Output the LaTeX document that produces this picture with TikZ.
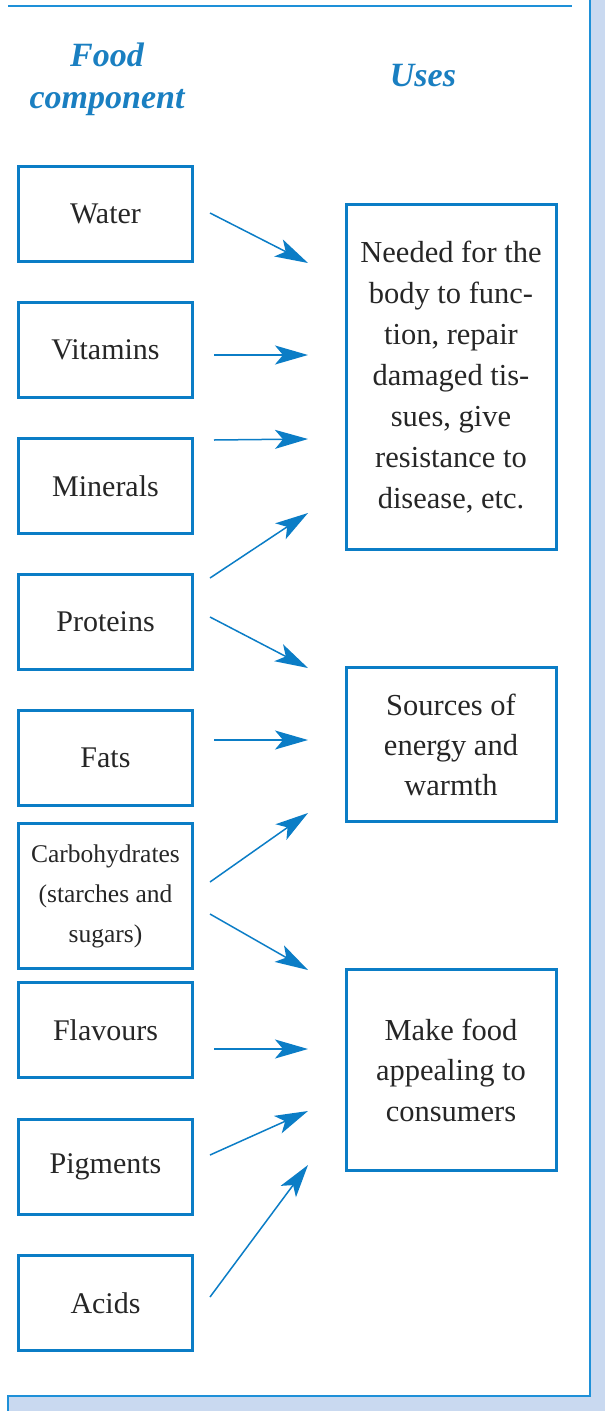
\documentclass[tikz,border=0pt]{standalone}
\usepackage{fontspec}
\setmainfont{Liberation Serif}
\usetikzlibrary{arrows.meta,calc}
\definecolor{boxblue}{HTML}{0B7DC6}
\definecolor{lineblue}{HTML}{1E90D8}
\definecolor{headblue}{HTML}{1A7FC1}
\definecolor{bandblue}{HTML}{C9D9F0}
\tikzset{
  foodbox/.style={draw=boxblue, line width=3pt, minimum width=174pt, minimum height=95pt, inner sep=0pt, align=center, font=\fontsize{30}{41}\selectfont, text=black!85},
  usebox/.style={draw=boxblue, line width=3pt, minimum width=210pt, inner sep=0pt, align=center, font=\fontsize{30.5}{41}\selectfont, text=black!85},
  heading/.style={align=center, text=headblue, font=\fontsize{34}{42}\selectfont\bfseries\itshape},
  arr/.style={draw=boxblue, line width=1.5pt, -{Stealth[length=33pt,width=19pt,inset=8pt]}},
  frame/.style={draw=lineblue, line width=1.5pt}
}
\begin{document}
\begin{tikzpicture}[x=1pt,y=-1pt]
\useasboundingbox (0,0) rectangle (605,1411);
% background bands
\fill[bandblue] (591,0) rectangle (605,1411);
\fill[bandblue] (8,1397) rectangle (605,1411);
\draw[frame] (590,0) -- (590,1396) -- (8,1396) -- (8,1411);
\draw[draw=lineblue, line width=1.2pt] (8,6) -- (572,6);
% headings
\node[heading] (hfood) at (107,79) {Food\\component};
\node[heading] (huses) at (423,76) {Uses};
% left boxes
\node[foodbox] (water) at (105.5,214) {Water};
\node[foodbox] (vitamins) at (105.5,350) {Vitamins};
\node[foodbox] (minerals) at (105.5,486) {Minerals};
\node[foodbox] (proteins) at (105.5,622) {Proteins};
\node[foodbox] (fats) at (105.5,758) {Fats};
\node[foodbox, minimum height=145pt, font=\fontsize{25.5}{40}\selectfont] (carbs) at (105.5,896) {Carbohydrates\\(starches and\\sugars)};
\node[foodbox] (flavours) at (105.5,1030) {Flavours};
\node[foodbox] (pigments) at (105.5,1167) {Pigments};
\node[foodbox] (acids) at (105.5,1303) {Acids};
% right boxes
\node[usebox, minimum height=345pt] (body) at (451,377) {Needed for the\\body to func-\\tion, repair\\damaged tis-\\sues, give\\resistance to\\disease, etc.};
\node[usebox, minimum height=154pt, font=\fontsize{30.5}{40}\selectfont] (energy) at (451,744.5) {Sources of\\energy and\\warmth};
\node[usebox, minimum height=201pt, font=\fontsize{30.5}{40.5}\selectfont] (appeal) at (451,1070) {Make food\\appealing to\\consumers};
% arrow end points
\coordinate (wA) at (210,213);  \coordinate (wB) at (308,263);
\coordinate (vA) at (214,355);  \coordinate (vB) at (308,355);
\coordinate (mA) at (214,440);  \coordinate (mB) at (308,439);
\coordinate (pA) at (210,578);  \coordinate (pB) at (308,513);
\coordinate (pC) at (210,617);  \coordinate (pD) at (308,668);
\coordinate (fA) at (214,740);  \coordinate (fB) at (308,740);
\coordinate (cA) at (210,882);  \coordinate (cB) at (308,813);
\coordinate (cC) at (210,914);  \coordinate (cD) at (308,970);
\coordinate (flA) at (214,1049); \coordinate (flB) at (308,1049);
\coordinate (piA) at (210,1155); \coordinate (piB) at (308,1111);
\coordinate (aA) at (210,1297); \coordinate (aB) at (308,1165);
\draw[arr] (wA) -- (wB);
\draw[arr] (vA) -- (vB);
\draw[arr] (mA) -- (mB);
\draw[arr] (pA) -- (pB);
\draw[arr] (pC) -- (pD);
\draw[arr] (fA) -- (fB);
\draw[arr] (cA) -- (cB);
\draw[arr] (cC) -- (cD);
\draw[arr] (flA) -- (flB);
\draw[arr] (piA) -- (piB);
\draw[arr] (aA) -- (aB);
\end{tikzpicture}
\end{document}
